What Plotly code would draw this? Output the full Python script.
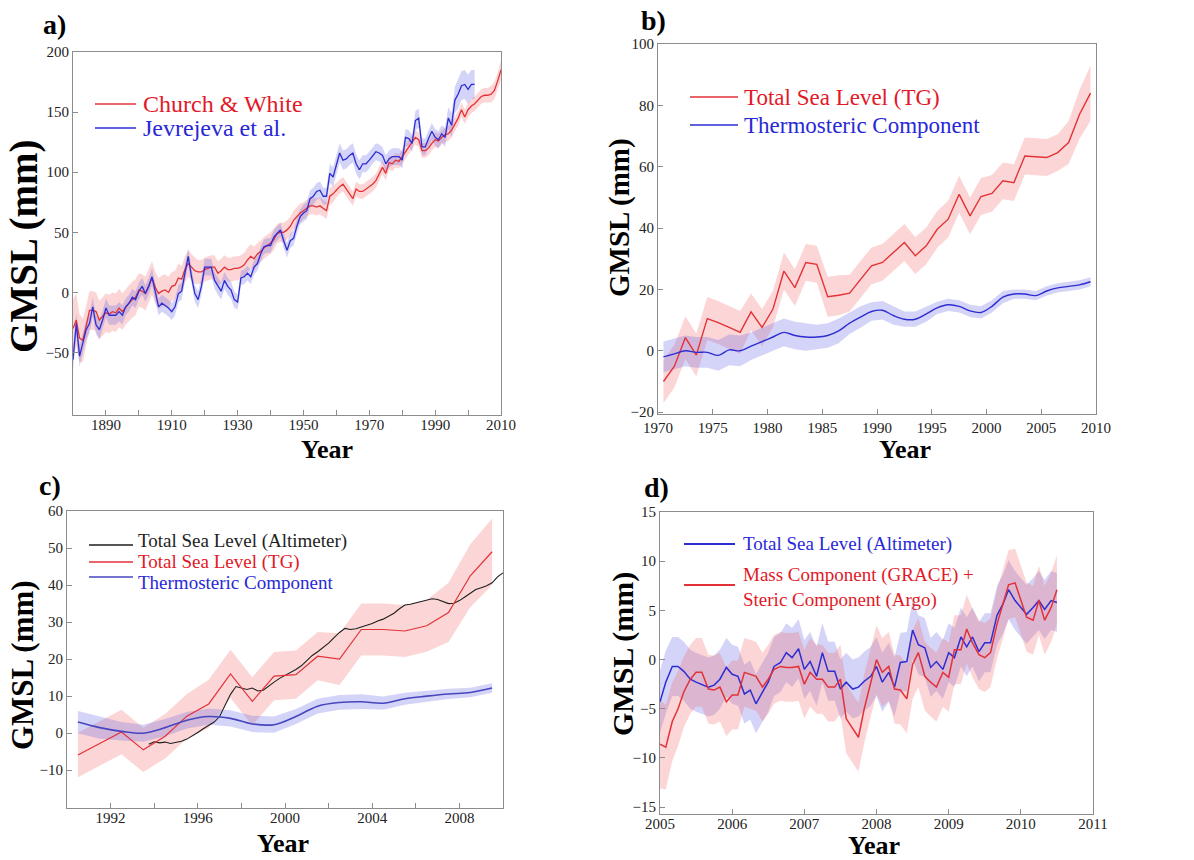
import plotly.graph_objects as go

W, H = 1194, 860
FONT = "Liberation Serif"
RED = "rgb(226,50,55)"
BLUE = "rgb(45,45,210)"
BLACK = "rgb(30,30,30)"
RED_TXT = "rgb(225,25,40)"
BLUE_TXT = "rgb(40,40,215)"
RED_BAND = "rgba(245,105,105,0.27)"
BLUE_BAND = "rgba(95,95,230,0.27)"

# ---------------- Panel a data ----------------
cw_years = list(range(1880, 2011))
cw_gmsl = [-30, -23, -38, -40, -28, -15, -15, -16, -23, -20,
           -17, -18, -16, -17, -13, -16, -12, -9, -6, -4,
           2, 1, -1, 5, 12, 4, -1, 1, 2, 0,
           5, 6, 12, 11, 19, 24, 21, 18, 17, 17,
           19, 20, 21, 21, 16, 18, 21, 19, 19, 20,
           20, 21, 23, 27, 30, 28, 32, 34, 37, 39,
           41, 44, 49, 50, 50, 52, 55, 60, 63, 66,
           68, 70, 72, 72, 71, 72, 70, 68, 80, 82,
           85, 88, 90, 86, 82, 78, 86, 84, 84, 86,
           88, 90, 93, 98, 104, 99, 108, 107, 110, 109,
           113, 117, 121, 125, 129, 127, 118, 118, 120, 124,
           127, 126, 129, 131, 132, 135, 140, 145, 152, 146,
           152, 155, 157, 160, 163, 164, 164, 165, 168, 176, 185]
cw_err = [24, 22, 20, 18, 17, 16, 16, 16, 16, 16,
          16, 16, 16, 16, 16, 15, 15, 15, 15, 15,
          14, 14, 14, 14, 14, 13, 13, 13, 13, 13,
          12, 12, 12, 11, 11, 11, 11, 11, 10, 10,
          10, 10, 10, 10, 10, 10, 10, 10, 10, 10,
          10, 10, 10, 10, 10, 10, 9, 9, 9, 9,
          9, 9, 8, 8, 8, 8, 8, 8, 8, 8,
          7, 7, 7, 7, 7, 7, 7, 7, 7, 7,
          6, 6, 6, 6, 6, 6, 6, 6, 6, 6,
          6, 6, 6, 6, 6, 6, 6, 6, 6, 6,
          6, 6, 6, 6, 6, 6, 6, 6, 6, 6,
          6, 6, 6, 6, 6, 6, 6, 6, 6, 6,
          6, 6, 6, 6, 6, 6, 6, 7, 7, 7, 8]

jev_years = list(range(1880, 2003))
jev_gmsl = [-56, -26, -53, -42, -31, -26, -12, -27, -31, -23,
            -13, -19, -19, -19, -16, -19, -12, -9, -4, -6,
            1, 5, -1, 5, 13, -1, -12, -9, -11, -13,
            -16, -12, -1, 1, 16, 30, 13, -1, -6, 5,
            21, 21, 21, 10, 5, 1, 10, 5, 2, -6,
            -8, 12, 13, 16, 13, 21, 24, 32, 38, 39,
            39, 46, 49, 52, 43, 35, 43, 45, 55, 63,
            66, 68, 78, 80, 84, 85, 80, 80, 99, 96,
            106, 116, 110, 111, 114, 116, 107, 102, 107, 107,
            110, 114, 117, 116, 114, 107, 111, 113, 113, 113,
            110, 129, 128, 124, 143, 145, 121, 121, 128, 134,
            129, 127, 132, 129, 145, 139, 160, 165, 172, 173,
            169, 173, 173]
jev_err = [9, 9, 9, 8, 8, 8, 8, 8, 8, 8,
           8, 8, 8, 8, 8, 8, 7, 7, 7, 7,
           7, 7, 7, 7, 7, 7, 7, 7, 7, 7,
           7, 7, 7, 7, 7, 7, 7, 7, 7, 7,
           7, 7, 7, 7, 7, 7, 7, 7, 7, 7,
           6, 6, 6, 6, 6, 6, 6, 6, 6, 6,
           6, 6, 6, 6, 6, 6, 6, 6, 6, 6,
           7, 7, 7, 7, 7, 7, 7, 7, 8, 8,
           8, 8, 8, 8, 8, 8, 8, 8, 7, 7,
           7, 7, 7, 7, 7, 7, 7, 7, 7, 7,
           7, 7, 7, 7, 8, 8, 7, 7, 7, 7,
           7, 7, 7, 8, 9, 10, 11, 12, 12, 12,
           12, 12, 12]

# ---------------- Panel b data ----------------
b_years = [1970.5, 1971.5, 1972.5, 1973.5, 1974.5, 1975.5, 1976.5, 1977.5, 1978.5, 1979.5,
           1980.5, 1981.5, 1982.5, 1983.5, 1984.5, 1985.5, 1986.5, 1987.5, 1988.5, 1989.5,
           1990.5, 1991.5, 1992.5, 1993.5, 1994.5, 1995.5, 1996.5, 1997.5, 1998.5, 1999.5,
           2000.5, 2001.5, 2002.5, 2003.5, 2004.5, 2005.5, 2006.5, 2007.5, 2008.5, 2009.5]
b_tg = [-10, -5, 4.3, -1.4, 10.5, 9.2, 7.6, 6.0, 12.7, 7.6,
        13.6, 26.0, 20.6, 28.8, 28.2, 17.6, 18.1, 18.8, 23.3, 27.7,
        28.8, 32.0, 35.3, 31.0, 34.2, 39.6, 42.9, 51.0, 44.0, 50.3,
        51.3, 55.4, 54.8, 63.5, 63.3, 63.0, 64.6, 67.9, 77.1, 84.0]
b_tg_err = [7, 7, 7, 7, 7, 7, 7, 7, 6, 6,
            6, 6, 6, 6, 6, 6.5, 6.5, 6, 6, 6,
            6, 6, 6, 6, 6, 6, 6, 6, 6, 6,
            6, 6, 6, 6, 6, 6, 6, 7, 8, 9]
b_th = [-2.0, -1.0, 0.0, -0.5, -0.5, -1.5, 0.3, 0.0, 1.5, 3.0,
        4.5, 6.0, 5.0, 4.5, 4.5, 5.0, 6.5, 9.0, 11.0, 12.8,
        13.2, 11.5, 10.3, 10.3, 12.0, 14.0, 15.0, 14.5, 13.0, 12.5,
        14.5, 17.5, 18.5, 18.5, 18.0, 19.5, 20.5, 21.0, 21.5, 22.5]
b_th_err = [5, 5, 5, 5, 5, 5, 5, 5, 4.5, 4.5,
            4.5, 4.5, 4.5, 4.5, 4, 4, 4, 3.5, 3.5, 3,
            3, 3, 2.5, 2.5, 2.5, 2, 2, 2, 2, 2,
            2, 2, 1.5, 1.5, 1.5, 1.5, 1.5, 1.5, 1.5, 1.5]

# ---------------- Panel c data ----------------
c_years = [1990.5, 1991.5, 1992.5, 1993.5, 1994.5, 1995.5, 1996.5, 1997.5, 1998.5, 1999.5,
           2000.5, 2001.5, 2002.5, 2003.5, 2004.5, 2005.5, 2006.5, 2007.5, 2008.5, 2009.5]
c_tg = [-5.9, -2.8, 0.3, -4.5, -0.8, 4.6, 7.9, 16.0, 8.6, 15.4,
        15.8, 20.8, 20.0, 28.0, 28.0, 27.6, 29.0, 32.6, 42.5, 49.0]
c_tg_err = [6, 6, 6, 6, 6, 6, 6.5, 6.5, 6.5, 6.5,
            6.5, 6.5, 7, 7, 7, 7, 7, 8, 8.5, 9]
c_th = [3.0, 1.5, 0.5, 0.0, 1.5, 3.5, 4.5, 4.0, 2.5, 2.3,
        4.5, 7.3, 8.3, 8.5, 8.1, 9.3, 10.0, 10.6, 11.0, 12.2]
c_th_err = [3, 3, 2.5, 2.3, 2.3, 2.2, 2.2, 2.2, 2.2, 2.2,
            2, 2, 2, 2, 1.8, 1.6, 1.5, 1.4, 1.3, 1.3]
alt_years = [1993.75, 1994.0, 1994.25, 1994.5, 1994.75, 1995.0, 1995.25, 1995.5, 1995.75,
             1996.0, 1996.25, 1996.5, 1996.75, 1997.0, 1997.25, 1997.5, 1997.75,
             1998.0, 1998.25, 1998.5, 1998.75, 1999.0, 1999.25, 1999.5, 1999.75,
             2000.0, 2000.25, 2000.5, 2000.75, 2001.0, 2001.25, 2001.5, 2001.75,
             2002.0, 2002.25, 2002.5, 2002.75, 2003.0, 2003.25, 2003.5, 2003.75,
             2004.0, 2004.25, 2004.5, 2004.75, 2005.0, 2005.25, 2005.5, 2005.75,
             2006.0, 2006.25, 2006.5, 2006.75, 2007.0, 2007.25, 2007.5, 2007.75,
             2008.0, 2008.25, 2008.5, 2008.75, 2009.0, 2009.25, 2009.5, 2009.75, 2010.0]
alt_gmsl = [-3.0, -2.3, -2.6, -2.4, -2.8, -2.5, -2.2, -1.6, -0.8,
            0.2, 1.2, 2.0, 3.0, 4.5, 7.5, 10.5, 12.6,
            12.2, 11.8, 12.2, 11.4, 11.6, 12.8, 13.8, 14.8,
            15.6, 16.3, 17.2, 18.2, 19.6, 21.0, 22.0, 23.2,
            24.3, 25.8, 27.2, 28.3, 28.0, 28.2, 28.6, 29.2,
            29.6, 30.3, 30.8, 31.6, 32.4, 33.6, 34.6, 34.8,
            35.2, 35.6, 36.0, 36.3, 36.1, 35.6, 35.0, 35.1,
            35.8, 36.8, 37.8, 38.8, 39.3, 39.8, 40.6, 42.2, 43.3]

# ---------------- Panel d data ----------------
d_months = [2005.00, 2005.08, 2005.17, 2005.25, 2005.33, 2005.42, 2005.50, 2005.58, 2005.67, 2005.75, 2005.83, 2005.92,
            2006.00, 2006.08, 2006.17, 2006.25, 2006.33, 2006.42, 2006.50, 2006.58, 2006.67, 2006.75, 2006.83, 2006.92,
            2007.00, 2007.08, 2007.17, 2007.25, 2007.33, 2007.42, 2007.50, 2007.58, 2007.67, 2007.75, 2007.83, 2007.92,
            2008.00, 2008.08, 2008.17, 2008.25, 2008.33, 2008.42, 2008.50, 2008.58, 2008.67, 2008.75, 2008.83, 2008.92,
            2009.00, 2009.08, 2009.17, 2009.25, 2009.33, 2009.42, 2009.50, 2009.58, 2009.67, 2009.75, 2009.83, 2009.92,
            2010.00, 2010.08, 2010.17, 2010.25, 2010.33, 2010.42, 2010.50]
d_alt = [-4.3, -2.3, -0.7, -0.7, -1.2, -2.0, -2.3, -2.5, -2.8, -2.6, -2.0, -0.8,
         -1.5, -1.7, -3.5, -3.1, -4.5, -3.3, -2.3, -0.7, -0.3, 0.7, 0.2, 1.1,
         -1.0, -0.2, -1.7, 0.7, -1.2, -1.2, -3.0, -2.3, -3.0, -2.8, -2.2, -1.7,
         -0.7, -2.3, -1.3, -2.8, -0.3, -0.2, 3.0, 1.5, 1.2, -0.8, -0.2, -1.0,
         0.7, 0.2, 2.3, 1.3, 2.3, 0.8, 1.7, 1.7, 4.5, 5.6, 7.1, 6.0,
         5.3, 4.6, 5.3, 6.0, 5.1, 6.0, 5.8]
d_alt_err = [3.2, 3.2, 3.0, 3.0, 3.0, 3.0, 3.0, 3.0, 3.0, 3.0, 3.0, 3.0,
             3.0, 3.0, 3.0, 3.0, 3.0, 3.0, 3.0, 3.0, 3.0, 3.0, 3.0, 3.0,
             3.0, 3.0, 3.0, 3.0, 3.0, 3.0, 3.0, 3.0, 3.0, 3.0, 3.0, 3.0,
             3.0, 3.0, 3.0, 3.0, 3.0, 3.0, 3.0, 3.0, 3.0, 3.0, 3.0, 3.0,
             3.0, 3.0, 3.0, 3.0, 3.0, 3.0, 3.0, 3.0, 3.0, 3.0, 3.0, 3.0,
             3.0, 3.0, 3.0, 3.0, 3.0, 3.0, 3.0]
d_mass = [-8.6, -8.9, -6.3, -5.0, -3.3, -2.0, -1.3, -1.3, -3.0, -3.1, -2.8, -4.3,
          -3.6, -3.6, -1.3, -1.5, -1.7, -2.8, -2.0, -1.0, -0.7, -0.8, -0.8, -0.7,
          -2.5, -1.3, -2.0, -2.0, -2.8, -2.8, -2.0, -6.0, -7.0, -7.9, -5.0, -2.3,
          0.0, -1.3, -0.7, -3.0, -3.1, -4.0, -0.5, 0.7, -1.7, -2.3, -2.8, -1.3,
          -1.8, 1.0, 1.0, 3.1, 1.7, 0.5, 0.2, 0.7, 3.6, 5.6, 7.6, 7.8,
          6.0, 4.3, 4.0, 6.0, 4.0, 5.3, 7.1]
d_mass_err = [4.5, 4.3, 4.0, 3.8, 3.6, 3.5, 3.5, 3.5, 3.5, 3.5, 3.5, 3.5,
              3.5, 3.5, 3.5, 3.5, 3.5, 3.5, 3.5, 3.5, 3.5, 3.5, 3.5, 3.5,
              3.5, 3.5, 3.5, 3.5, 3.5, 3.5, 3.5, 3.5, 3.5, 3.5, 3.5, 3.5,
              3.5, 3.5, 3.5, 3.5, 3.5, 3.5, 3.5, 3.5, 3.5, 3.5, 3.5, 3.5,
              3.5, 3.5, 3.5, 3.5, 3.5, 3.5, 3.5, 3.5, 3.5, 3.5, 3.5, 3.5,
              3.5, 3.5, 3.5, 3.5, 3.5, 3.5, 3.5]

# ---------------- tick labels ----------------
a_xticks = [1880, 1890, 1900, 1910, 1920, 1930, 1940, 1950, 1960, 1970, 1980, 1990, 2000, 2010]
a_xtext = ["", "1890", "", "1910", "", "1930", "", "1950", "", "1970", "", "1990", "", "2010"]
a_yticks = [-50, 0, 50, 100, 150, 200]
b_xticks = [1970, 1975, 1980, 1985, 1990, 1995, 2000, 2005, 2010]
b_yticks = [-20, 0, 20, 40, 60, 80, 100]
c_xticks = [1990, 1992, 1994, 1996, 1998, 2000, 2002, 2004, 2006, 2008, 2010]
c_xtext = ["", "1992", "", "1996", "", "2000", "", "2004", "", "2008", ""]
c_yticks = [-10, 0, 10, 20, 30, 40, 50, 60]
d_xticks = [2005, 2006, 2007, 2008, 2009, 2010, 2011]
d_yticks = [-15, -10, -5, 0, 5, 10, 15]

# legend entries: (text, line colour, text colour)
legend_a = [("Church &amp; White", RED, RED_TXT), ("Jevrejeva et al.", BLUE, BLUE_TXT)]
legend_b = [("Total Sea Level (TG)", RED, RED_TXT), ("Thermosteric Component", BLUE, BLUE_TXT)]
legend_c = [("Total Sea Level (Altimeter)", BLACK, BLACK), ("Total Sea Level (TG)", RED, RED_TXT),
            ("Thermosteric Component", "rgb(70,70,190)", BLUE_TXT)]
legend_d = [("Total Sea Level (Altimeter)", BLUE, BLUE_TXT),
            ("Mass Component (GRACE) +<br>Steric Component (Argo)", RED, RED_TXT)]


def px(x):
    return x / W


def py(y):
    return 1 - y / H


fig = go.Figure()


def band(x, y, e, color, n):
    up = [v + d for v, d in zip(y, e)]
    lo = [v - d for v, d in zip(y, e)]
    fig.add_trace(go.Scatter(
        x=list(x) + list(x)[::-1], y=up + lo[::-1], fill="toself",
        fillcolor=color, line=dict(width=0), mode="lines",
        hoverinfo="skip", showlegend=False,
        xaxis="x" + n, yaxis="y" + n))


def line(x, y, color, width, n, shape="linear"):
    fig.add_trace(go.Scatter(
        x=x, y=y, mode="lines", line=dict(color=color, width=width, shape=shape),
        showlegend=False, xaxis="x" + n, yaxis="y" + n))


# panel a
band(cw_years, cw_gmsl, cw_err, RED_BAND, "")
band(jev_years, jev_gmsl, jev_err, BLUE_BAND, "")
line(cw_years, cw_gmsl, RED, 1.3, "")
line(jev_years, jev_gmsl, BLUE, 1.3, "")

# panel b
band(b_years, b_tg, b_tg_err, RED_BAND, "2")
band(b_years, b_th, b_th_err, BLUE_BAND, "2")
line(b_years, b_tg, RED, 1.4, "2")
line(b_years, b_th, BLUE, 1.4, "2", "spline")

# panel c
band(c_years, c_tg, c_tg_err, RED_BAND, "3")
band(c_years, c_th, c_th_err, BLUE_BAND, "3")
line(alt_years, alt_gmsl, BLACK, 1.1, "3")
line(c_years, c_tg, RED, 1.2, "3")
line(c_years, c_th, "rgb(70,70,190)", 1.6, "3", "spline")

# panel d
band(d_months, d_alt, d_alt_err, BLUE_BAND, "4")
band(d_months, d_mass, d_mass_err, RED_BAND, "4")
line(d_months, d_alt, BLUE, 1.5, "4")
line(d_months, d_mass, RED, 1.5, "4")

axis_style = dict(showline=True, mirror=True, linecolor="#8c8c8c", linewidth=1.2,
                  ticks="inside", ticklen=5, tickcolor="#8c8c8c", showgrid=False,
                  zeroline=False, automargin=False,
                  tickfont=dict(family=FONT, size=15, color="#222"))
xstyle = dict(axis_style, ticklabelstandoff=-4)

fig.update_layout(
    width=W, height=H, margin=dict(l=0, r=0, t=0, b=0, autoexpand=False),
    paper_bgcolor="white", plot_bgcolor="white",
    font=dict(family=FONT), showlegend=False,
    xaxis=dict(domain=[px(73), px(501)], range=[1880, 2010], anchor="y",
               tickvals=a_xticks, ticktext=a_xtext, **xstyle),
    yaxis=dict(domain=[py(415), py(52)], range=[-102, 200], anchor="x",
               tickvals=a_yticks, **axis_style),
    xaxis2=dict(domain=[px(658), px(1096)], range=[1970, 2010], anchor="y2",
                tickvals=b_xticks, **axis_style),
    yaxis2=dict(domain=[py(414), py(44)], range=[-20.6, 100], anchor="x2",
                tickvals=b_yticks, **axis_style),
    xaxis3=dict(domain=[px(67), px(503)], range=[1990, 2010], anchor="y3",
                tickvals=c_xticks, ticktext=c_xtext, **xstyle),
    yaxis3=dict(domain=[py(808), py(511)], range=[-20.2, 60], anchor="x3",
                tickvals=c_yticks, **axis_style),
    xaxis4=dict(domain=[px(660), px(1093)], range=[2005, 2011], anchor="y4",
                tickvals=d_xticks, **xstyle),
    yaxis4=dict(domain=[py(814), py(512)], range=[-15.7, 15], anchor="x4",
                tickvals=d_yticks, **axis_style),
)


def add_legend(entries, x0, x1, xtext, ys, ytexts, size, width):
    for (txt, lcol, tcol), yl, yt in zip(entries, ys, ytexts):
        fig.add_shape(type="line", xref="paper", yref="paper",
                      x0=px(x0), x1=px(x1), y0=py(yl), y1=py(yl),
                      line=dict(color=lcol, width=width))
        fig.add_annotation(text=txt, x=px(xtext), y=py(yt), xref="paper", yref="paper",
                           showarrow=False, xanchor="left", yanchor="middle", align="left",
                           font=dict(family=FONT, size=size, color=tcol))


add_legend(legend_a, 95, 136, 141, [104, 128], [104, 128], 24, 1.3)
add_legend(legend_b, 690, 738, 742, [97, 125], [97, 125], 23, 1.3)
add_legend(legend_c, 89, 133, 136, [545, 562, 577], [541, 562, 582], 19, 1.3)
add_legend(legend_d, 684, 735, 741, [544, 585], [544, 587], 19, 2.0)

annots = [
    ("a)", 54, 24, 28, 0), ("b)", 653, 20, 28, 0), ("c)", 50, 485, 28, 0), ("d)", 656, 488, 28, 0),
    ("Year", 327, 449, 26, 0), ("Year", 905, 449, 26, 0), ("Year", 283, 843, 26, 0), ("Year", 874, 845, 26, 0),
    ("GMSL (mm)", 24, 247, 39, -90), ("GMSL (mm)", 620, 218, 29, -90),
    ("GMSL (mm)", 22, 665, 31, -90), ("GMSL (mm)", 623, 654, 30, -90),
]
for txt, x, y, s, ang in annots:
    fig.add_annotation(text="<b>%s</b>" % txt, x=px(x), y=py(y), xref="paper", yref="paper",
                       showarrow=False, textangle=ang, xanchor="center", yanchor="middle",
                       font=dict(family=FONT, size=s, color="black"))

fig.write_html("out.html")
